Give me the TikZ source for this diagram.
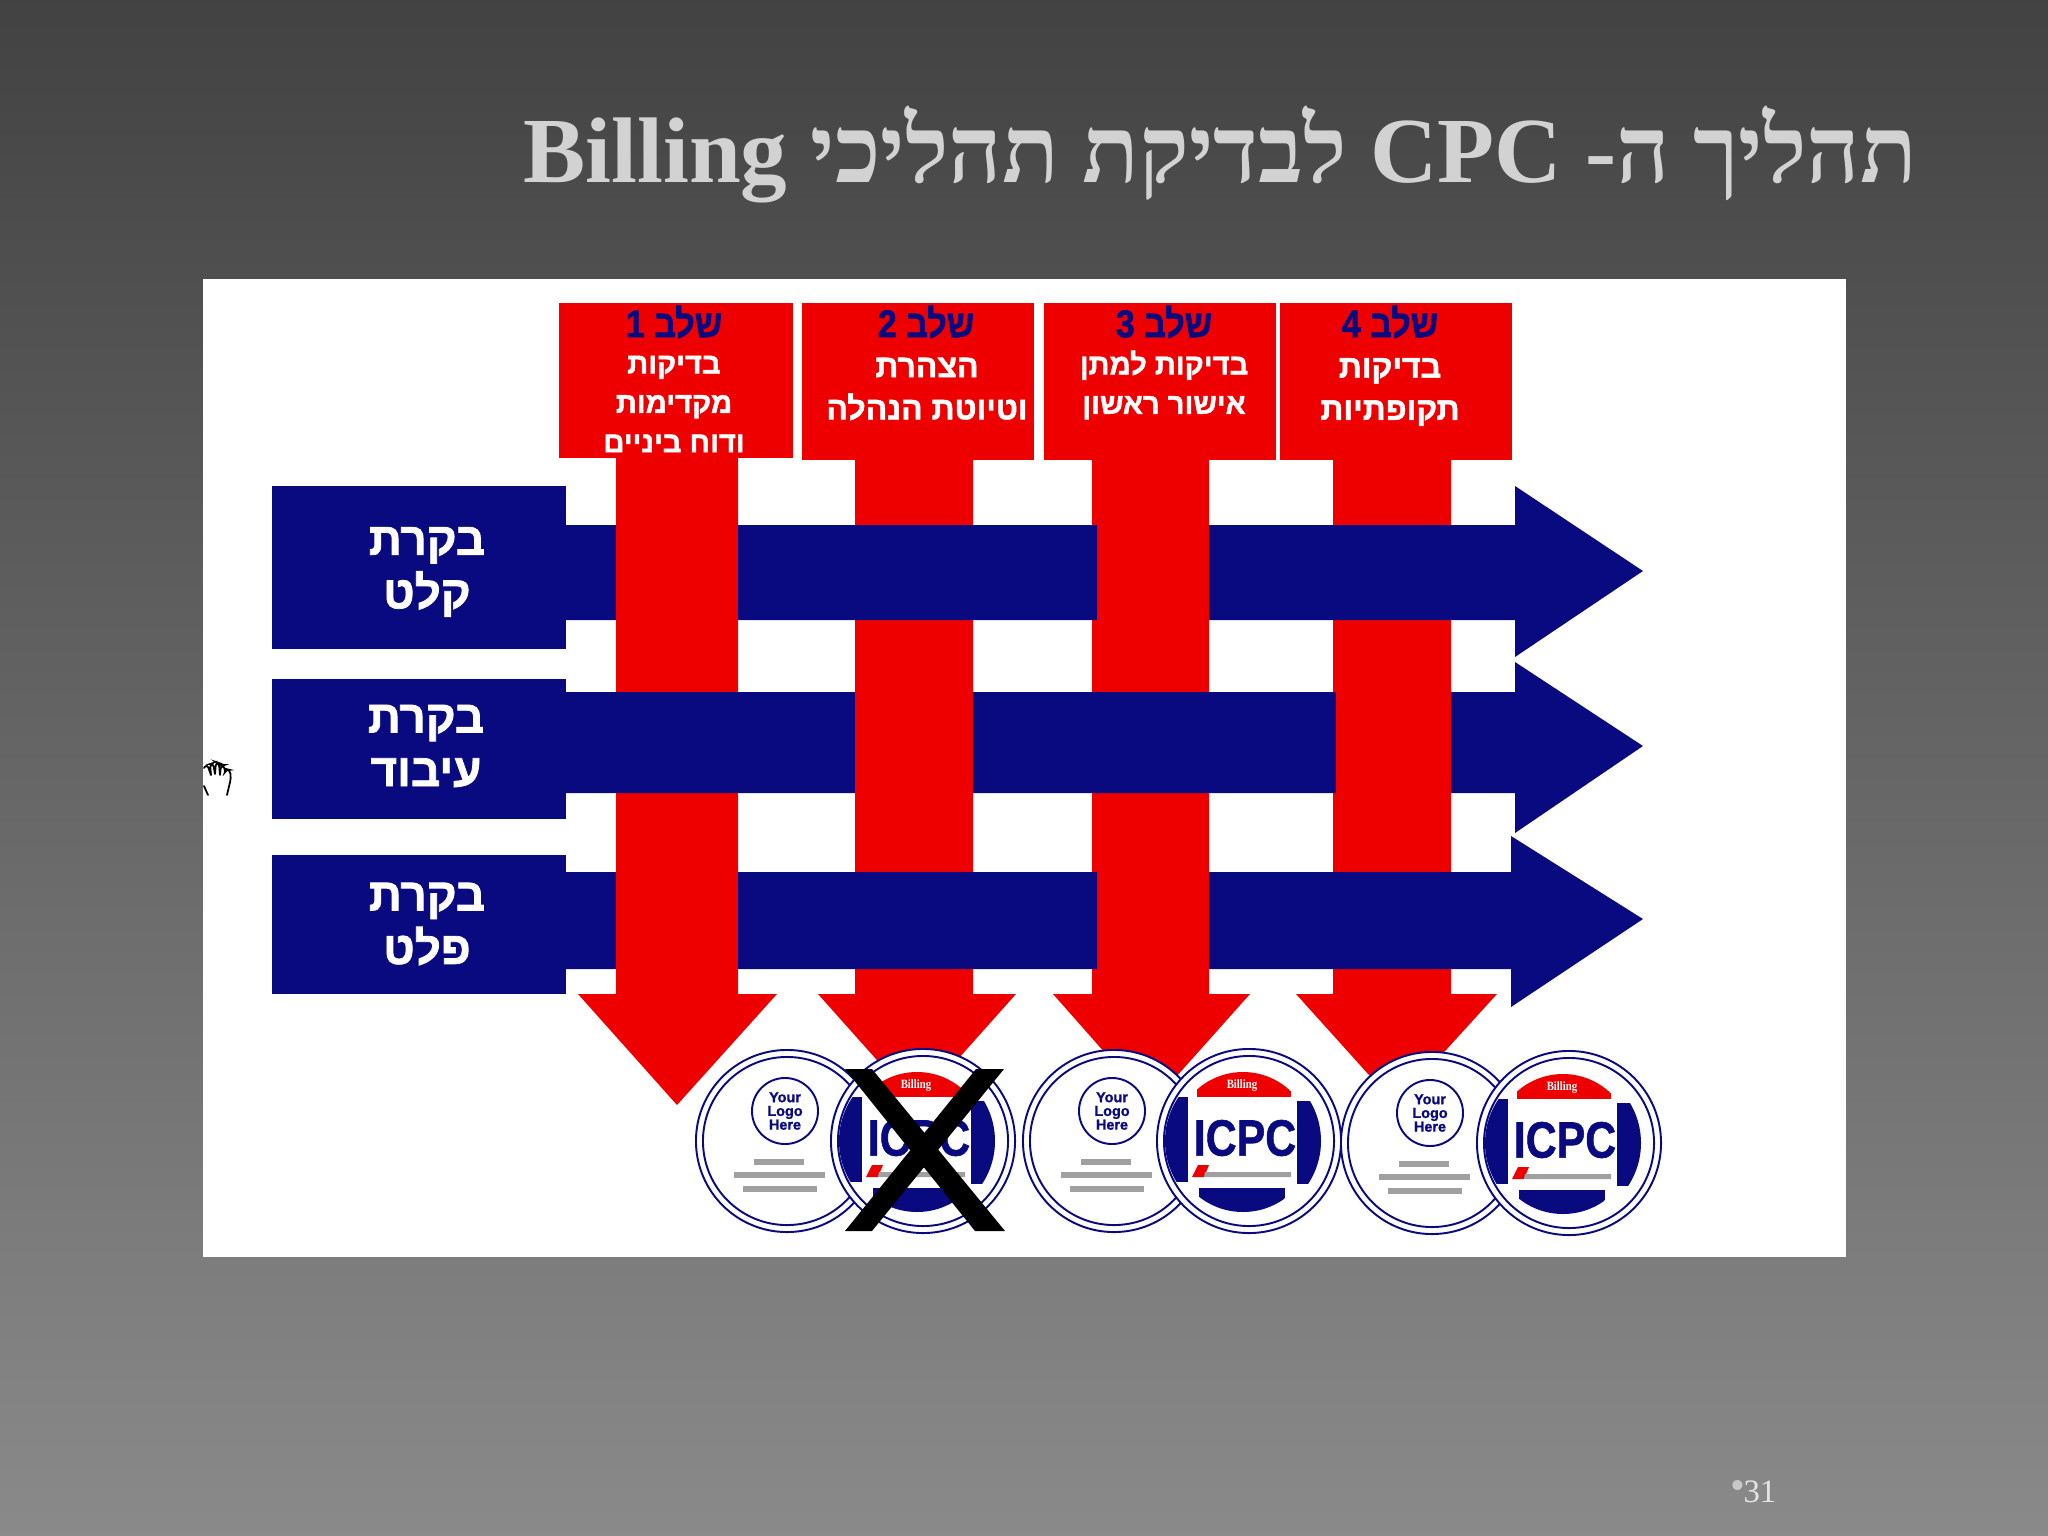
\documentclass[tikz,border=0pt]{standalone}
\usepackage{fontspec}
\setmainfont{Liberation Serif}
\newfontfamily\titlefont[Script=Hebrew]{Liberation Serif}
\newfontfamily\hebfont[Script=Hebrew,BoldFeatures={FakeBold=1.6}]{Liberation Sans}
\newfontfamily\latfont[BoldFeatures={FakeBold=1.2}]{Liberation Sans}
\TeXXeTstate=1
\definecolor{navy}{HTML}{0A0A80}
\definecolor{redfill}{HTML}{EE0000}
\definecolor{titlegrey}{HTML}{D2D2D2}
\definecolor{linegrey}{HTML}{A0A0A0}
\definecolor{dotgrey}{HTML}{C8C8C8}
\newcommand{\hb}[1]{\beginR #1\endR}
\newcommand{\fsz}[2]{\fontsize{#1}{#2}\selectfont}
\tikzset{
  redshape/.style={fill=redfill,draw=none},
  blueshape/.style={fill=navy,draw=none},
  redbox/.style={redshape,rectangle,inner sep=0pt},
  bluebox/.style={blueshape,rectangle,inner sep=0pt},
  rowlabel/.style={text=white,inner sep=0pt,align=center,font=\hebfont\bfseries\fsz{13}{15.2}},
  steptitle/.style={text=navy,inner sep=0pt,font=\hebfont\bfseries\fsz{11}{13}},
  steptext/.style={text=white,inner sep=0pt,align=center,font=\hebfont\bfseries\fsz{8.3}{11.2}},
  steptextb/.style={text=white,inner sep=0pt,align=center,font=\hebfont\bfseries\fsz{9.1}{12}},
  ring/.style={draw=navy,line width=0.55pt},
  greybar/.style={fill=linegrey,draw=none},
  crossarm/.style={fill=black,draw=none}
}
% logo disc: centre #1,#2 ; name suffix #3
\newcommand{\logodisc}[3]{%
  \begin{scope}[shift={(#1,#2)}]
    \node[circle,fill=white,ring,minimum size=1.82cm,inner sep=0pt] (logo#3) at (0,0) {};
    \node[circle,ring,minimum size=1.68cm,inner sep=0pt] (logoin#3) at (0,0) {};
    \node[circle,ring,minimum size=0.66cm,inner sep=0pt,text=navy,align=center,
      font=\latfont\bfseries\fsz{4.1}{3.9}] (logotxt#3) at (-2,-30) {Your\\Logo\\Here};
    \fill[greybar] (-33,18) rectangle (17,24);
    \fill[greybar] (-53,31) rectangle (38,37);
    \fill[greybar] (-44,45) rectangle (30,51);
  \end{scope}}
% ICPC disc
\newcommand{\icpcdisc}[3]{%
  \begin{scope}[shift={(#1,#2)}]
    \node[circle,fill=white,ring,minimum size=1.84cm,inner sep=0pt] (icpc#3) at (0,0) {};
    \node[circle,ring,minimum size=1.70cm,inner sep=0pt] (icpcin#3) at (0,0) {};
    \begin{scope}
      \clip (-6,0) circle [radius=78];
      \fill[blueshape] (-90,-44) rectangle (-61,41);
      \fill[blueshape] (48,-40) rectangle (80,43);
    \end{scope}
    \begin{scope}
      \clip (-6,0) circle [radius=71];
      \fill[blueshape] (-50,47) rectangle (36,80);
    \end{scope}
    \begin{scope}
      \clip (-6,0) circle [radius=69];
      \fill[redshape] (-52,-80) rectangle (42,-44);
    \end{scope}
    \node[inner sep=0pt,text=white,font=\bfseries\fsz{3.6}{4}] (bill#3) at (-7,-56) {\scalebox{0.85}[1]{Billing}};
    \node[inner sep=0pt,text=navy,font=\latfont\bfseries\fsz{14.5}{15}] (icpctxt#3) at (-4,-3) {\scalebox{0.84}[1]{ICPC}};
    \fill[redshape] (-57,36) -- (-51,24) -- (-40,24) -- (-45,36) -- cycle;
    \fill[greybar] (-44,31) -- (-42,31) -- (42,31) -- (42,36) -- (-45,36) -- cycle;
  \end{scope}}
\begin{document}
\begin{tikzpicture}[x=0.01cm,y=-0.01cm]
\useasboundingbox (0,0) rectangle (2048,1536);
\shade[top color=black!74,bottom color=black!46] (0,0) rectangle (2048,1536);
\node[anchor=base east,inner sep=0pt,text=titlegrey,font=\titlefont\bfseries\fsz{26.5}{30}] (title) at (1918,182)
  {\beginR תהליך ה- \beginL CPC\endL{} לבדיקת תהליכי \beginL Billing\endL\endR};
\fill[white] (203,279) rectangle (1846,1257);

% red vertical arrows
\fill[redshape] (616,458) -- (738,458) -- (738,994) -- (777,994) -- (677,1105) -- (578,994) -- (616,994) -- cycle;
\fill[redshape] (855,458) -- (973,458) -- (973,994) -- (1016,994) -- (917,1105) -- (818,994) -- (855,994) -- cycle;
\fill[redshape] (1092,458) -- (1209,458) -- (1209,994) -- (1250,994) -- (1151,1105) -- (1053,994) -- (1092,994) -- cycle;
\fill[redshape] (1333,458) -- (1451,458) -- (1451,994) -- (1497,994) -- (1396,1105) -- (1296,994) -- (1333,994) -- cycle;

% red step boxes
\node[redbox,minimum width=2.34cm,minimum height=1.55cm] (b1) at (676,380.5) {};
\node[redbox,minimum width=2.32cm,minimum height=1.57cm] (b2) at (918,381.5) {};
\node[redbox,minimum width=2.32cm,minimum height=1.57cm] (b3) at (1160,381.5) {};
\node[redbox,minimum width=2.32cm,minimum height=1.57cm] (b4) at (1396,381.5) {};
\node[steptitle] (t1) at (674,322) {\scalebox{0.88}[1]{\hb{שלב 1}}};
\node[steptitle] (t2) at (926,322) {\scalebox{0.88}[1]{\hb{שלב 2}}};
\node[steptitle] (t3) at (1164,322) {\scalebox{0.88}[1]{\hb{שלב 3}}};
\node[steptitle] (t4) at (1390,322) {\scalebox{0.88}[1]{\hb{שלב 4}}};
\node[steptext] (s1) at (674,404) {\hb{בדיקות}\\\hb{מקדימות}\\\hb{ודוח ביניים}};
\node[steptextb] (s2) at (927,389) {\hb{הצהרת}\\\hb{וטיוטת הנהלה}};
\node[steptext] (s3) at (1164,385) {\hb{בדיקות למתן}\\\hb{אישור ראשון}};
\node[steptextb] (s4) at (1390,392) {\hb{בדיקות}\\\hb{תקופתיות}};

% blue horizontal arrows
\fill[blueshape] (560,525) -- (1515,525) -- (1515,486) -- (1643,571) -- (1515,657) -- (1515,620) -- (560,620) -- cycle;
\fill[blueshape] (560,692) -- (1515,692) -- (1515,662) -- (1643,746) -- (1515,833) -- (1515,793) -- (560,793) -- cycle;
\fill[blueshape] (560,872) -- (1511,872) -- (1511,836) -- (1643,919) -- (1511,1007) -- (1511,969) -- (560,969) -- cycle;
\node[bluebox,minimum width=2.94cm,minimum height=1.63cm] (r1) at (419,567.5) {};
\node[bluebox,minimum width=2.94cm,minimum height=1.40cm] (r2) at (419,749) {};
\node[bluebox,minimum width=2.94cm,minimum height=1.39cm] (r3) at (419,924.5) {};
\node[rowlabel] (l1) at (427,572) {\hb{בקרת}\\\hb{קלט}};
\node[rowlabel] (l2) at (426,746) {\hb{בקרת}\\\hb{עיבוד}};
\node[rowlabel] (l3) at (427,924) {\hb{בקרת}\\\hb{פלט}};

% red strands that pass over the blue ones
\fill[redshape] (616,520) rectangle (738,625);
\fill[redshape] (1097,520) rectangle (1209,625);
\fill[redshape] (855,688) rectangle (973,797);
\fill[redshape] (1336,688) rectangle (1451,797);
\fill[redshape] (616,868) rectangle (738,973);
\fill[redshape] (1097,868) rectangle (1209,973);

% discs
\logodisc{787}{1141}{A}
\icpcdisc{923}{1141}{A}
\logodisc{1114}{1141}{B}
\icpcdisc{1249}{1141}{B}
\logodisc{1432}{1143}{C}
\icpcdisc{1569}{1143}{C}

% black cross
\fill[crossarm] (845,1069) -- (872,1069) -- (1005,1231) -- (975,1231) -- cycle;
\fill[crossarm] (976,1069) -- (1004,1069) -- (872,1231) -- (845,1231) -- cycle;

% hand cursor
\draw[black,line width=0.5pt,line cap=round,rounded corners=1pt] (204,768) -- (207,764) -- (211,775) (211,775) -- (210,764) -- (213,763) -- (215,774) (215,774) -- (216,762) -- (219,763) -- (220,775) (220,775) -- (221,765) -- (224,765) -- (225,772) (225,772) -- (226,769) -- (230,770) -- (231,778) -- (227,795) (204,786) -- (208,795);

\node[anchor=base east,inner sep=0pt,text=white!90!black,font=\fsz{9.3}{10}] (page) at (1777,1502) {\raisebox{0.6pt}{\fsz{12}{12}\color{dotgrey}•}\kern-0.5pt 31};
\end{tikzpicture}
\end{document}
